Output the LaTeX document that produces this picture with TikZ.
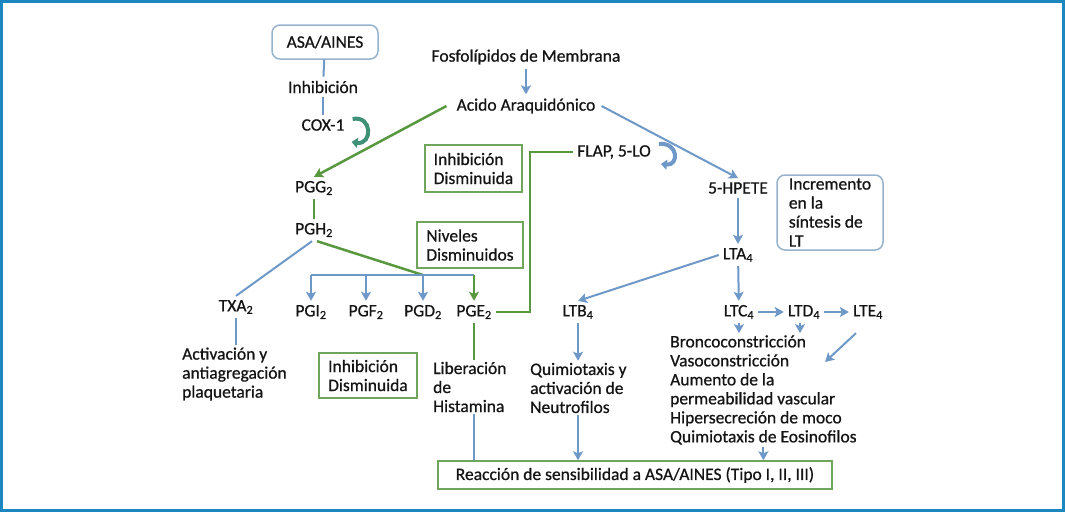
\documentclass[tikz,border=0pt]{standalone}
\usepackage{fontspec}
\setmainfont{Carlito}
\newfontfamily\diagfont{Carlito}[FakeBold=0.7]
\usetikzlibrary{arrows.meta, positioning, calc}
\definecolor{frameBlue}{RGB}{28,134,190}
\definecolor{pathBlue}{RGB}{110,152,200}
\definecolor{pathGreen}{RGB}{88,152,62}
\definecolor{boxGreen}{RGB}{112,166,92}
\definecolor{boxBlue}{RGB}{150,178,205}
\definecolor{curlTeal}{RGB}{62,145,118}
\definecolor{inkGray}{RGB}{20,20,20}

\begin{document}
\begin{tikzpicture}[
    x=1pt, y=-1pt,
    every node/.style={font=\diagfont\fontsize{17.5}{19}\selectfont, text=inkGray},
    term/.style={inner sep=4pt},
    note/.style={inner sep=2pt, align=left, anchor=west},
    greenbox/.style={rectangle, draw=boxGreen, line width=1.5pt, align=left, inner sep=0pt},
    bluebox/.style={rectangle, rounded corners=8pt, draw=boxBlue, line width=1.5pt, align=left, inner sep=0pt},
    bline/.style={draw=pathBlue, line width=2pt},
    gline/.style={draw=pathGreen, line width=2.5pt},
    barrow/.style={bline, -{Stealth[length=9pt,width=10pt,inset=2pt]}},
    garrow/.style={gline, -{Stealth[length=9pt,width=10pt,inset=2pt]}},
    curl/.style={line width=4pt, -{Triangle[length=6pt,width=10pt]}}
]
\useasboundingbox (0,0) rectangle (1065,512);
\draw[frameBlue, line width=2.5pt] (1.5,1.5) rectangle (1063.5,510.5);

% Top of the cascade
\node[bluebox, minimum width=106pt, minimum height=34pt] (asa) at (325,42) {ASA/AINES};
\node[term] (inhib) at (323,87) {Inhibición};
\node[term] (cox) at (323,125) {COX-1};
\node[term] (fosfo) at (526,57) {Fosfolípidos de Membrana};
\node[term] (acido) at (526,106) {Acido Araquidónico};
\node[term] (flap) at (614,152) {FLAP, 5-LO};

% Prostaglandins
\node[term] (pgg) at (314,188) {PGG\textsubscript{2}};
\node[term] (pgh) at (314,230) {PGH\textsubscript{2}};
\node[term] (txa) at (236,307) {TXA\textsubscript{2}};
\node[term] (pgi) at (311,312) {PGI\textsubscript{2}};
\node[term] (pgf) at (366,312) {PGF\textsubscript{2}};
\node[term] (pgd) at (423,312) {PGD\textsubscript{2}};
\node[term] (pge) at (474,312) {PGE\textsubscript{2}};
\coordinate (split) at (423,275);

% Leukotrienes
\node[term] (hpete) at (738,188) {5-HPETE};
\node[term] (lta) at (738,255) {LTA\textsubscript{4}};
\node[term] (ltb) at (578,312) {LTB\textsubscript{4}};
\node[term] (ltc) at (739,312) {LTC\textsubscript{4}};
\node[term] (ltd) at (804,312) {LTD\textsubscript{4}};
\node[term] (lte) at (868,312) {LTE\textsubscript{4}};

% Effects
\node[note] (activ) at (180,374) {Activación y\\antiagregación\\plaquetaria};
\node[note] (liber) at (431,387) {Liberación\\de\\Histamina};
\node[note] (quimio) at (528,388) {Quimiotaxis y\\activación de\\Neutrofilos};
\node[note] (effects) at (668,390) {Broncoconstricción\\Vasoconstricción\\Aumento de la\\permeabilidad vascular\\Hipersecreción de moco\\Quimiotaxis de Eosinofilos};
\coordinate (vaso) at (825,362);

% Boxes
\node[greenbox, minimum width=97pt, minimum height=47pt] (inhibA) at (473.5,168.5) {Inhibición\\Disminuida};
\node[greenbox, minimum width=106pt, minimum height=46pt] (niveles) at (470,245) {Niveles\\Disminuidos};
\node[greenbox, minimum width=98pt, minimum height=45pt] (inhibB) at (368,375.5) {Inhibición\\Disminuida};
\node[bluebox, minimum width=106pt, minimum height=75pt] (incr) at (830,212.5) {Incremento\\en la\\síntesis de\\LT};
\node[greenbox, minimum width=394pt, minimum height=28pt, align=center] (reaccion) at (635,475) {Reacción de sensibilidad a ASA/AINES (Tipo I, II, III)};

% Connectors
\draw[bline] (asa) -- (inhib);
\draw[bline] (inhib) -- (cox);
\draw[barrow] (fosfo) -- (acido);
\draw[garrow] ([xshift=-6pt]acido.west) -- (pgg.north);
\draw[barrow] ([xshift=2pt]acido.east) -- (hpete.north);
\draw[curl, curlTeal] ($(cox.east)+(4,-6)$) .. controls ($(cox.east)+(24,-10)$) and ($(cox.east)+(24,20)$) .. ($(cox.east)+(3,17)$);
\draw[curl, pathBlue] ($(flap.east)+(4,-8)$) .. controls ($(flap.east)+(24,-10)$) and ($(flap.east)+(24,14)$) .. ($(flap.east)+(6,12)$);

\draw[gline] (pgg) -- (pgh);
\draw[bline] ([xshift=-2pt]pgh.south) -- (txa.north);
\draw[gline] ([xshift=3pt]pgh.south) -- (split);
\draw[bline] (pgi.north |- split) -- (pge.north |- split);
\draw[barrow] (pgi.north |- split) -- (pgi.north);
\draw[barrow] (pgf.north |- split) -- (pgf.north);
\draw[barrow] (pgd.north |- split) -- (pgd.north);
\draw[garrow] (pge.north |- split) -- (pge.north);
\draw[gline] (pge.east) -- ++(34,0) |- (flap.west);
\draw[gline] (pge.south) -- (pge.south |- liber.north);
\draw[bline] (pge |- liber.south) -- (pge |- reaccion.north);
\draw[bline] (txa.south) -- (txa.south |- activ.north);

\draw[barrow] (hpete) -- (lta);
\draw[barrow] (lta.west) -- (ltb.north);
\draw[barrow] (lta) -- (ltc);
\draw[barrow] (ltc) -- (ltd);
\draw[barrow] (ltd) -- (lte);
\draw[barrow] (ltb.south) -- (ltb.south |- quimio.north);
\draw[barrow] (quimio.south -| ltb) -- (ltb |- reaccion.north);
\draw[barrow] (ltc.south) -- (ltc.south |- effects.north);
\draw[barrow] ([xshift=-4pt]ltd.south) -- ([xshift=-4pt]ltd.south |- effects.north);
\draw[barrow] ($(lte.south)+(-12,10)$) -- (vaso);
\draw[barrow] (effects.south) -- (effects.south |- reaccion.north);
\end{tikzpicture}
\end{document}
